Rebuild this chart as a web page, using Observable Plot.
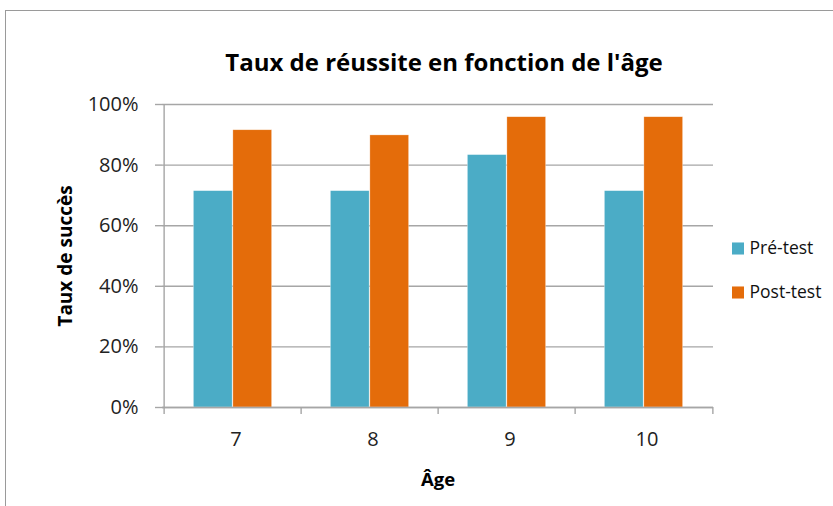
<!DOCTYPE html>
<html>
<head>
<meta charset="utf-8">
<script src="https://cdn.jsdelivr.net/npm/d3@7"></script>
<script src="https://cdn.jsdelivr.net/npm/@observablehq/plot@0.6"></script>
<style>
  html, body { margin: 0; padding: 0; background: #fff; overflow: hidden; width: 833px; height: 506px; }
  #border { position: absolute; left: 5px; top: 10px; width: 1000px; height: 700px; border: 1.5px solid #9a9a9a; box-sizing: border-box; }
  #chart { position: absolute; left: 0; top: 0; }
</style>
</head>
<body>
<div id="border"></div>
<div id="chart"></div>
<script>
const ages = ["7", "8", "9", "10"];
const preTest = [71.4, 71.4, 83.3, 71.4];
const postTest = [91.5, 89.8, 95.8, 95.8];
const yTicks = [0, 20, 40, 60, 80, 100];
const seriesNames = ["Pré-test", "Post-test"];
const seriesColors = ["#4bacc6", "#e46c0a"];
const titleText = "Taux de réussite en fonction de l'âge";
const yLabel = "Taux de succès";
const xLabel = "Âge";

const W = 833, H = 506;
const mL = 162, mR = 120, mT = 104, mB = 99;
const bw = (W - mL - mR) / ages.length;
const barW = 39.5;
const grid = "#a6a6a6";
const font = "'Open Sans', sans-serif";

const preData = ages.map((a, i) => ({age: a, value: preTest[i]}));
const postData = ages.map((a, i) => ({age: a, value: postTest[i]}));

const chart = Plot.plot({
  width: W, height: H,
  marginLeft: mL, marginRight: mR, marginTop: mT, marginBottom: mB,
  x: {domain: ages, padding: 0, label: null},
  y: {domain: [0, 100], label: null},
  style: {fontFamily: font, fontSize: "20px", color: "#000", background: "transparent"},
  marks: [
    Plot.gridY(yTicks, {stroke: grid, strokeOpacity: 1, strokeWidth: 1.4}),
    Plot.barY(preData, {x: "age", y: "value", fill: seriesColors[0], insetLeft: bw / 2 - barW, insetRight: bw / 2, stroke: "#fff", strokeOpacity: 0.5, strokeWidth: 0.6}),
    Plot.barY(postData, {x: "age", y: "value", fill: seriesColors[1], insetLeft: bw / 2, insetRight: bw / 2 - barW, stroke: "#fff", strokeOpacity: 0.5, strokeWidth: 0.6}),
    Plot.ruleY([0], {stroke: grid, strokeWidth: 1.4}),
    Plot.ruleX([ages[0]], {stroke: grid, strokeWidth: 1.4, dx: -bw / 2}),
    Plot.axisY(yTicks, {tickSize: 7, tickPadding: 17, stroke: grid, strokeWidth: 1.4, fill: "#222", tickFormat: d => d + "%", fontSize: 20, label: null}),
    Plot.axisX(ages, {tickSize: 0, tickPadding: 24, dx: 3, fill: "#222", fontSize: 20, label: null}),
    Plot.axisX(ages, {tickSize: 7, stroke: grid, strokeWidth: 1.4, tickFormat: () => "", dx: -bw / 2, label: null}),
    Plot.axisX([ages[ages.length - 1]], {tickSize: 7, stroke: grid, strokeWidth: 1.4, tickFormat: () => "", dx: bw / 2, label: null}),
    Plot.text([titleText], {frameAnchor: "top", lineAnchor: "middle", dy: -41, dx: 6, fontWeight: "bold", fontSize: 24, fill: "#000"}),
    Plot.text([yLabel], {frameAnchor: "left", rotate: -90, textAnchor: "middle", lineAnchor: "middle", dx: -97, fontWeight: "bold", fontSize: 19, fill: "#000"}),
    Plot.text([xLabel], {frameAnchor: "bottom", lineAnchor: "middle", dy: 73, fontWeight: "bold", fontSize: 18.5, fill: "#000"}),
    Plot.dot([seriesNames[0]], {frameAnchor: "right", symbol: "square", r: 6.8, fill: seriesColors[0], dx: 24.5, dy: -7.5}),
    Plot.dot([seriesNames[1]], {frameAnchor: "right", symbol: "square", r: 6.8, fill: seriesColors[1], dx: 24.5, dy: 36.5}),
    Plot.text([seriesNames[0]], {frameAnchor: "right", textAnchor: "start", lineAnchor: "middle", dx: 36, dy: -7.5, fontSize: 17.5, fill: "#111", text: d => d}),
    Plot.text([seriesNames[1]], {frameAnchor: "right", textAnchor: "start", lineAnchor: "middle", dx: 36, dy: 36.5, fontSize: 17.5, fill: "#111", text: d => d})
  ]
});
document.getElementById("chart").append(chart);
</script>
</body>
</html>
